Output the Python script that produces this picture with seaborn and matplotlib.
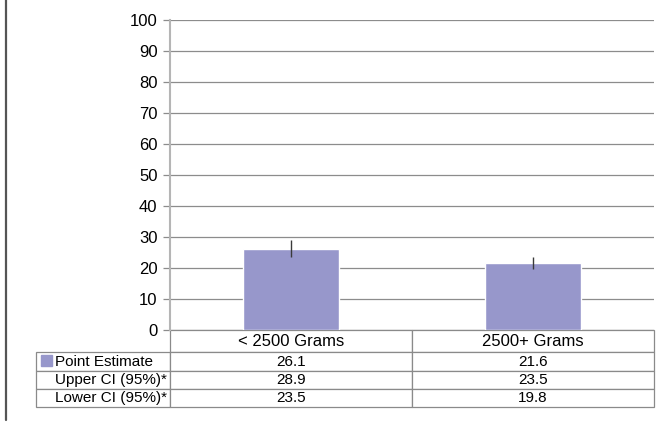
import matplotlib
matplotlib.use("Agg")
import matplotlib.pyplot as plt
from matplotlib.patches import Rectangle
from matplotlib.lines import Line2D
import seaborn as sns

categories = ["< 2500 Grams", "2500+ Grams"]
point_estimate = [26.1, 21.6]
upper_ci = [28.9, 23.5]
lower_ci = [23.5, 19.8]
row_labels = ["Point Estimate", "Upper CI (95%)*", "Lower CI (95%)*"]
y_ticks = list(range(0, 101, 10))

bar_color = "#9797CB"
grid_color = "#8c8c8c"

sns.set_style("white")
plt.rcParams["font.family"] = ["Liberation Sans", "DejaVu Sans"]

fig = plt.figure(figsize=(6.7, 4.23), dpi=100)
ax = fig.add_axes([170 / 670, 1 - 330 / 423, 484 / 670, 310 / 423])

sns.barplot(x=categories, y=point_estimate, color=bar_color, width=0.4,
            saturation=1, ax=ax, zorder=3)
ax.vlines(range(len(categories)), lower_ci, upper_ci, color="#3a3a3a",
          linewidth=1, zorder=4)

ax.set_ylim(0, 100)
ax.set_xlim(-0.5, 1.5)
ax.set_yticks(y_ticks)
ax.set_xticks([])
ax.set_xlabel("")
ax.set_ylabel("")
ax.yaxis.grid(True, color=grid_color, linewidth=0.9)
ax.set_axisbelow(True)
ax.tick_params(axis="y", labelsize=12, labelcolor="black", length=5, width=0.9,
               color=grid_color, pad=4, left=True)
for s in ["top", "right", "bottom"]:
    ax.spines[s].set_visible(False)
ax.spines["left"].set_color("#b5b5b5")
ax.spines["left"].set_linewidth(1.5)

# data table below the axes
fmt = lambda v: f"{v:.1f}"
cell_text = [[""] + categories,
             [row_labels[0]] + [fmt(v) for v in point_estimate],
             [row_labels[1]] + [fmt(v) for v in upper_ci],
             [row_labels[2]] + [fmt(v) for v in lower_ci]]
label_w, col_w = 134, 242
total_w = label_w + 2 * col_w
tbl = ax.table(cellText=cell_text,
               colWidths=[label_w / total_w, col_w / total_w, col_w / total_w],
               cellLoc="center",
               bbox=[-label_w / 484, -77 / 310, total_w / 484, 77 / 310])
tbl.auto_set_font_size(False)
row_h = [22, 19, 18, 18]
for (r, c), cell in tbl.get_celld().items():
    cell.set_edgecolor("#8a8a8a")
    cell.set_linewidth(0.9)
    cell.set_height(row_h[r] / 77)
    cell.get_text().set_fontsize(12 if r == 0 else 11)
    cell.get_text().set_color("black")
    if r == 0 and c == 0:
        cell.visible_edges = ""
    if c == 0 and r > 0:
        cell.get_text().set_horizontalalignment("left")
        cell.PAD = 19 / label_w

# legend key inside the table
ax.add_patch(Rectangle((-(170 - 41) / 484, -(366 - 330) / 310), 11 / 484, 11 / 310,
                       transform=ax.transAxes, color=bar_color, clip_on=False,
                       zorder=5))

# left border of the frame
fig.add_artist(Line2D([6 / 670, 6 / 670], [1.0, 1 - 420 / 423],
                      transform=fig.transFigure, color="#555555", linewidth=1.6))

fig.savefig("out.png", dpi=100)
